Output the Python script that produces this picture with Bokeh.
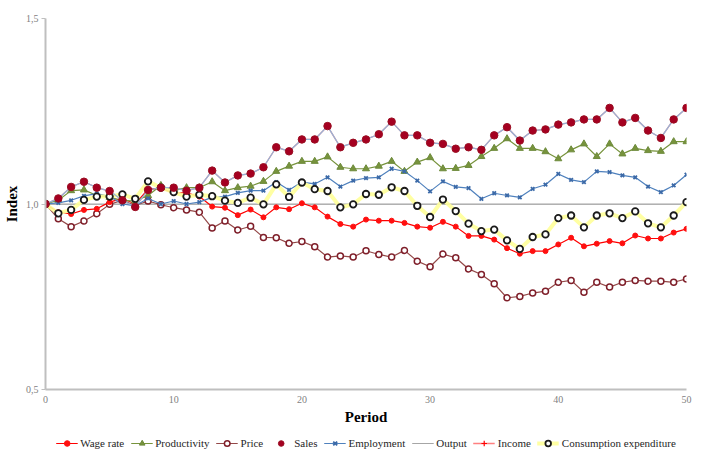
from bokeh.plotting import figure
from bokeh.layouts import column
from bokeh.models import Range1d, FixedTicker, Legend, LegendItem
from bokeh.embed import file_html
from bokeh.resources import INLINE

# Simulated macro indices over 50 periods (base period = 1.0)
periods = list(range(51))

wage_rate = [1.000, 0.978, 0.973, 0.984, 0.987, 1.005, 1.015, 1.000, 1.040, 1.042,
             1.030, 1.030, 1.020, 0.993, 0.990, 0.970, 0.985, 0.964, 0.991, 0.986,
             1.002, 0.991, 0.966, 0.946, 0.939, 0.958, 0.955, 0.955, 0.949, 0.939,
             0.936, 0.952, 0.939, 0.914, 0.914, 0.904, 0.881, 0.866, 0.873, 0.873,
             0.891, 0.909, 0.886, 0.893, 0.900, 0.894, 0.915, 0.907, 0.907, 0.923,
             0.933]

productivity = [1.000, 1.010, 1.036, 1.038, 1.023, 1.018, 1.010, 1.008, 1.023, 1.050,
                1.036, 1.044, 1.044, 1.060, 1.036, 1.044, 1.048, 1.061, 1.088, 1.102,
                1.115, 1.115, 1.127, 1.099, 1.095, 1.095, 1.102, 1.115, 1.088, 1.113,
                1.125, 1.095, 1.096, 1.104, 1.128, 1.150, 1.176, 1.150, 1.150, 1.141,
                1.122, 1.146, 1.162, 1.128, 1.162, 1.135, 1.150, 1.144, 1.142, 1.168,
                1.168]

price = [1.000, 0.960, 0.939, 0.954, 0.974, 0.999, 1.010, 0.996, 1.008, 0.998,
         0.990, 0.984, 0.978, 0.935, 0.954, 0.930, 0.940, 0.910, 0.909, 0.894,
         0.899, 0.885, 0.857, 0.860, 0.857, 0.874, 0.864, 0.857, 0.875, 0.846,
         0.831, 0.865, 0.855, 0.825, 0.810, 0.785, 0.747, 0.751, 0.760, 0.765,
         0.789, 0.794, 0.762, 0.789, 0.776, 0.789, 0.794, 0.792, 0.792, 0.789,
         0.798]

sales = [1.000, 1.015, 1.046, 1.060, 1.044, 1.035, 1.010, 0.992, 1.038, 1.044,
         1.044, 1.036, 1.044, 1.090, 1.058, 1.077, 1.082, 1.099, 1.153, 1.142,
         1.174, 1.174, 1.210, 1.153, 1.165, 1.174, 1.188, 1.222, 1.185, 1.185,
         1.165, 1.162, 1.149, 1.153, 1.146, 1.185, 1.207, 1.171, 1.198, 1.201,
         1.214, 1.220, 1.228, 1.228, 1.259, 1.220, 1.232, 1.198, 1.178, 1.228,
         1.259]

employment = [1.000, 1.003, 1.010, 1.022, 1.028, 1.020, 1.000, 0.995, 1.015, 1.000,
              1.008, 1.000, 1.005, 1.018, 1.020, 1.030, 1.036, 1.036, 1.059, 1.038,
              1.059, 1.054, 1.072, 1.047, 1.063, 1.070, 1.072, 1.095, 1.088, 1.063,
              1.034, 1.061, 1.046, 1.043, 1.014, 1.029, 1.023, 1.018, 1.041, 1.052,
              1.081, 1.065, 1.059, 1.088, 1.086, 1.077, 1.072, 1.047, 1.032, 1.050,
              1.079]

output = [1.0, 1.0, 1.0, 1.0, 1.0, 1.0, 1.0, 1.0, 1.0, 1.0,
          1.0, 1.0, 1.0, 1.0, 1.0, 1.0, 1.0, 1.0, 1.0, 1.0,
          1.0, 1.0, 1.0, 1.0, 1.0, 1.0, 1.0, 1.0, 1.0, 1.0,
          1.0, 1.0, 1.0, 1.0, 1.0, 1.0, 1.0, 1.0, 1.0, 1.0,
          1.0, 1.0, 1.0, 1.0, 1.0, 1.0, 1.0, 1.0, 1.0, 1.0,
          1.0]

income = [1.000, 1.015, 1.046, 1.060, 1.044, 1.035, 1.010, 0.992, 1.038, 1.044,
          1.044, 1.036, 1.044, 1.090, 1.058, 1.077, 1.082, 1.099, 1.153, 1.142,
          1.174, 1.174, 1.210, 1.153, 1.165, 1.174, 1.188, 1.222, 1.185, 1.185,
          1.165, 1.162, 1.149, 1.153, 1.146, 1.185, 1.207, 1.171, 1.198, 1.201,
          1.214, 1.220, 1.228, 1.228, 1.259, 1.220, 1.232, 1.198, 1.178, 1.228,
          1.259]

consumption = [1.000, 0.975, 0.984, 1.011, 1.020, 1.020, 1.026, 1.014, 1.061, 1.044,
               1.032, 1.020, 1.025, 1.021, 1.009, 1.003, 1.017, 0.999, 1.053, 1.019,
               1.058, 1.040, 1.035, 0.991, 0.999, 1.027, 1.025, 1.045, 1.035, 0.995,
               0.965, 1.012, 0.981, 0.947, 0.927, 0.931, 0.902, 0.879, 0.911, 0.918,
               0.962, 0.969, 0.937, 0.969, 0.975, 0.962, 0.980, 0.948, 0.937, 0.969,
               1.005]

series_names = ["Wage rate", "Productivity", "Price", "Sales", "Employment",
                "Output", "Income", "Consumption expenditure"]

x_ticks = [0, 10, 20, 30, 40, 50]
y_ticks = [0.5, 1.0, 1.5]
y_tick_labels = {0.5: "0,5", 1.0: "1,0", 1.5: "1,5"}

SERIF = "Liberation Serif"

# visual style of each series: (line kwargs or None, marker kwargs or None)
styles = {
    "Wage rate": (dict(line_color="#FF0000", line_width=1.2),
                  dict(marker="circle", size=5, line_color="#FF1010", fill_color="#FF1010")),
    "Productivity": (dict(line_color="#77933C", line_width=1.2),
                     dict(marker="triangle", size=7, line_color="#6E8B3D", fill_color="#77933C")),
    "Price": (dict(line_color="#944848", line_width=1.2),
              dict(marker="circle", size=6, line_color="#7F1F2A", fill_color="white", line_width=1.5)),
    "Sales": (dict(line_color="#95B3D7", line_width=1.3),
              dict(marker="circle", size=7.5, line_color="#9A0E22", fill_color="#A50021")),
    "Employment": (dict(line_color="#4F81BD", line_width=1.2),
                   dict(marker="x", size=5, line_color="#3C6AA8", line_width=1.8)),
    "Output": (dict(line_color="#A6A6A6", line_width=1.2), None),
    "Income": (dict(line_color="#FF8080", line_width=1.3),
               dict(marker="cross", size=6, line_color="#FF0000", line_width=1.2)),
    "Consumption expenditure": (dict(line_color="#FFFF99", line_width=4, line_alpha=0.9),
                                dict(marker="circle", size=6.5, line_color="#1A1A1A",
                                     fill_color="white", line_width=1.8)),
}

p = figure(width=701, height=428,
           x_range=Range1d(0, 50), y_range=Range1d(0.5, 1.5),
           output_backend="svg", toolbar_location=None,
           min_border_left=45, min_border_right=15, min_border_top=18, min_border_bottom=39)
p.outline_line_color = None
p.background_fill_color = "white"
p.border_fill_color = "white"

# grid: only horizontal lines at the y ticks
p.xgrid.visible = False
p.ygrid.ticker = FixedTicker(ticks=y_ticks)
p.ygrid.grid_line_color = "#BDBDBD"
p.ygrid.grid_line_width = 1

# axes
p.xaxis.ticker = FixedTicker(ticks=x_ticks)
p.yaxis.ticker = FixedTicker(ticks=y_ticks)
p.yaxis.major_label_overrides = y_tick_labels
for ax in (p.xaxis, p.yaxis):
    ax.axis_line_color = "#BFBFBF"
    ax.axis_line_width = 2
    ax.major_tick_line_color = "#BFBFBF"
    ax.minor_tick_line_color = None
    ax.major_label_text_font = SERIF
    ax.major_label_text_font_size = "10px"
    ax.major_label_text_color = "#7F7F7F"
    ax.axis_label_text_font = SERIF
    ax.axis_label_text_font_style = "bold"
    ax.axis_label_text_font_size = "15px"
    ax.axis_label_text_color = "#000000"
p.xaxis.major_tick_out = 0
p.xaxis.major_tick_in = 0
p.xaxis.major_label_standoff = 6
p.xaxis.axis_label = "Period"
p.xaxis.axis_label_standoff = 3
p.yaxis.major_tick_out = 4
p.yaxis.major_tick_in = 0
p.yaxis.major_label_standoff = 3
p.yaxis.axis_label = "Index"
p.yaxis.axis_label_standoff = 3

data = {
    "Wage rate": wage_rate, "Productivity": productivity, "Price": price,
    "Sales": sales, "Employment": employment, "Output": output,
    "Income": income, "Consumption expenditure": consumption,
}

# drawing order (later = on top)
draw_order = ["Output", "Income", "Price", "Wage rate", "Productivity",
              "Employment", "Consumption expenditure", "Sales"]
for name in draw_order:
    line_kw, marker_kw = styles[name]
    if line_kw:
        p.line(periods, data[name], **line_kw)
    if marker_kw:
        p.scatter(periods, data[name], **marker_kw)

# legend strip beneath the chart; its swatch renderers sit outside the strip's ranges
leg = figure(width=701, height=30, x_range=Range1d(0, 1), y_range=Range1d(0, 1),
             output_backend="svg", toolbar_location=None,
             min_border_left=0, min_border_right=0, min_border_top=0, min_border_bottom=0)
leg.axis.visible = False
leg.grid.visible = False
leg.outline_line_color = None
leg.background_fill_color = "white"
leg.border_fill_color = "white"

off_x = [5, 6]
off_y = [5, 6]
items = []
for name in series_names:
    line_kw, marker_kw = styles[name]
    rs = []
    if line_kw and name != "Sales":
        rs.append(leg.line(off_x, off_y, **line_kw))
    if marker_kw:
        rs.append(leg.scatter(off_x, off_y, **marker_kw))
    items.append(LegendItem(label=name, renderers=rs))

legend = Legend(items=items, orientation="horizontal", location="center")
legend.border_line_color = None
legend.background_fill_alpha = 0
legend.label_text_font = SERIF
legend.label_text_font_size = "11px"
legend.label_text_color = "#262626"
legend.label_height = 14
legend.glyph_width = 22
legend.glyph_height = 14
legend.label_standoff = 3
legend.spacing = 6
legend.padding = 0
legend.margin = 0
leg.add_layout(legend, "center")

layout = column(p, leg, spacing=0)
open("out.html", "w").write(file_html(layout, INLINE))
